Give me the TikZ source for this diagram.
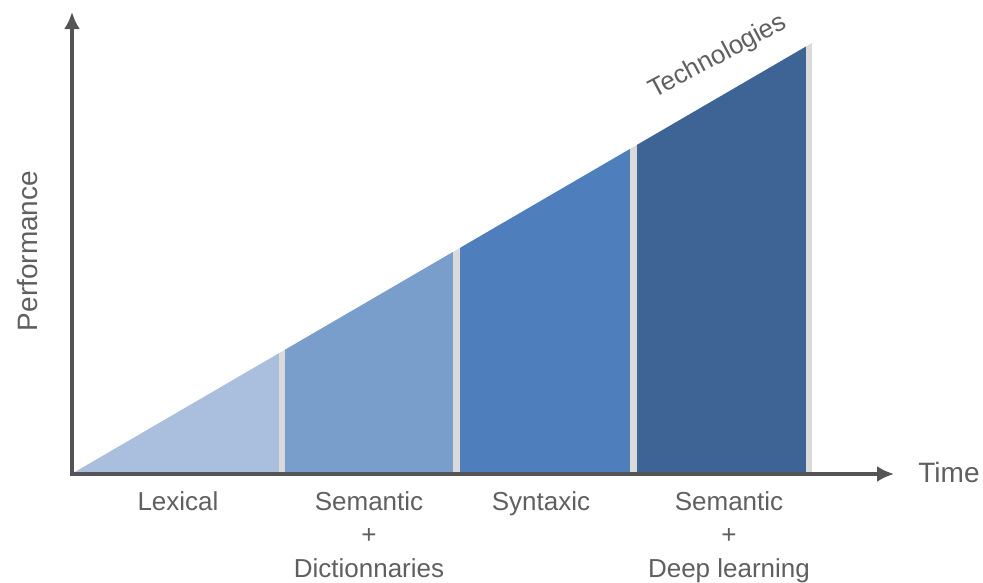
\documentclass[tikz,border=0pt]{standalone}
\usepackage{fontspec}
\setmainfont{Liberation Sans}
\usepackage{tikz}
\usetikzlibrary{arrows.meta}

\definecolor{lexblue}{HTML}{A9BFDD}
\definecolor{semblue}{HTML}{7A9ECB}
\definecolor{synblue}{HTML}{4E7FBC}
\definecolor{deepblue}{HTML}{3E6496}
\definecolor{sepgray}{HTML}{DADADA}
\definecolor{axisgray}{HTML}{555555}
\definecolor{textgray}{HTML}{5F5F5F}

\begin{document}
\begin{tikzpicture}[x=1pt, y=-1pt,
        lbl/.style={text=textgray, font=\fontsize{26}{33.5}\selectfont, align=center, inner sep=0pt},
        below/.style={lbl, anchor=north},
        big/.style={lbl, anchor=base, font=\fontsize{28}{34}\selectfont},
        axis/.style={draw=axisgray, line width=3.2pt, {Latex[length=17pt,width=16pt]}-{Latex[length=17pt,width=16pt]}}]
    \useasboundingbox (0,0) rectangle (983,582);
    \coordinate (origin) at (72,474);
    \coordinate (ytip) at (72,12);
    \coordinate (xtip) at (894,474);
    \begin{scope}
        \clip (75,472) -- (812,43) -- (812,472) -- cycle;
        \fill[sepgray] (75,0) rectangle (812,472);
        \foreach \a/\b/\c in {75/279/lexblue, 285/453/semblue, 460/630/synblue, 637/806/deepblue}
            \fill[\c] (\a,0) rectangle (\b,472);
    \end{scope}
    \draw[axis] (ytip) |- (xtip);
    \node[below] (lexical) at (178,491) {Lexical};
    \node[below] (semdict) at (369,491) {Semantic\\+\\Dictionnaries};
    \node[below] (syntaxic) at (541,491) {Syntaxic};
    \node[below] (semdeep) at (729,491) {Semantic\\+\\Deep learning};
    \node[big] (time) at (949,482) {Time};
    \node[big, rotate=90] (perf) at (37,251) {Performance};
    \node[lbl, anchor=base, rotate=28] (tech) at (721,63) {Technologies};
\end{tikzpicture}
\end{document}
